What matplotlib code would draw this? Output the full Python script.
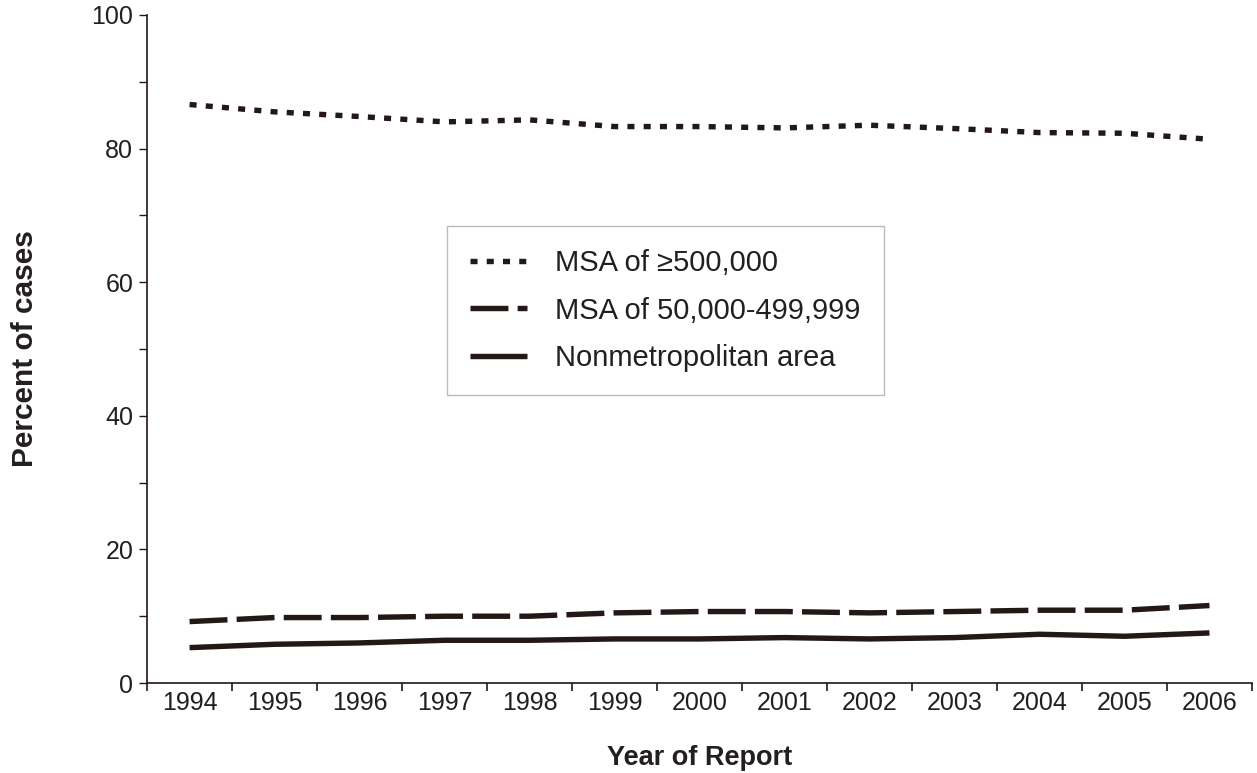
import matplotlib
matplotlib.use("Agg")
import matplotlib.pyplot as plt
from matplotlib.ticker import FixedLocator, MultipleLocator

years = ["1994", "1995", "1996", "1997", "1998", "1999", "2000",
         "2001", "2002", "2003", "2004", "2005", "2006"]
msa_large = [86.6, 85.5, 84.8, 84.0, 84.3, 83.3, 83.3, 83.1, 83.5, 83.0, 82.4, 82.3, 81.4]
msa_mid = [9.2, 9.8, 9.8, 10.0, 10.0, 10.5, 10.7, 10.7, 10.5, 10.7, 10.9, 10.9, 11.6]
nonmetro = [5.3, 5.8, 6.0, 6.4, 6.4, 6.6, 6.6, 6.8, 6.6, 6.8, 7.3, 7.0, 7.5]

labels = ["MSA of \u2265500,000", "MSA of 50,000-499,999", "Nonmetropolitan area"]

col = "#231815"
txt = "#231f20"
plt.rcParams['font.family'] = ['Liberation Sans', 'DejaVu Sans']

fig = plt.figure(figsize=(12.57, 7.73), dpi=100)
ax = fig.add_axes([0.117, 0.1164, 0.879, 0.8642])

x = list(range(len(years)))
lw = 3.9
ax.plot(x, msa_large, color=col, lw=lw, linestyle=(0, (1.3, 1.7)), dash_capstyle='butt', label=labels[0])
ax.plot(x, msa_mid, color=col, lw=lw, linestyle=(0, (7.0, 1.7)), dash_capstyle='butt', label=labels[1])
ax.plot(x, nonmetro, color=col, lw=lw, linestyle='-', solid_capstyle='butt', label=labels[2])

ax.set_xlim(-0.5, len(years) - 0.5)
ax.set_ylim(0, 100)

ax.spines['top'].set_visible(False)
ax.spines['right'].set_visible(False)
for s in ('left', 'bottom'):
    ax.spines[s].set_color(col)
    ax.spines[s].set_linewidth(1.2)

ax.yaxis.set_major_locator(MultipleLocator(20))
ax.yaxis.set_minor_locator(MultipleLocator(10))
ax.tick_params(axis='y', which='both', direction='out', length=6, width=1.0, color=col,
               labelsize=18, labelcolor=txt, pad=4)

ax.xaxis.set_major_locator(FixedLocator([i - 0.5 for i in range(len(years) + 1)]))
ax.xaxis.set_minor_locator(FixedLocator(x))
ax.set_xticklabels([""] * (len(years) + 1))
ax.set_xticklabels(years, minor=True)
ax.tick_params(axis='x', which='major', direction='out', length=6, width=1.2, color=col)
ax.tick_params(axis='x', which='minor', length=0, labelsize=18, labelcolor=txt, pad=6)

ax.set_ylabel("Percent of cases", fontsize=21.5, fontweight='bold', color=txt, labelpad=38)
ax.set_xlabel("Year of Report", fontsize=19.5, fontweight='bold', color=txt, labelpad=21)

leg = ax.legend(loc='upper left', bbox_to_anchor=(0.2715, 0.684), fontsize=21,
                frameon=True, fancybox=False, edgecolor='#bbbbbb', framealpha=1,
                handlelength=1.95, handletextpad=0.95, labelspacing=0.66,
                borderpad=0.8, borderaxespad=0)
leg.get_frame().set_linewidth(1.0)
for t in leg.get_texts():
    t.set_color(txt)

fig.savefig("out.png", dpi=100)
